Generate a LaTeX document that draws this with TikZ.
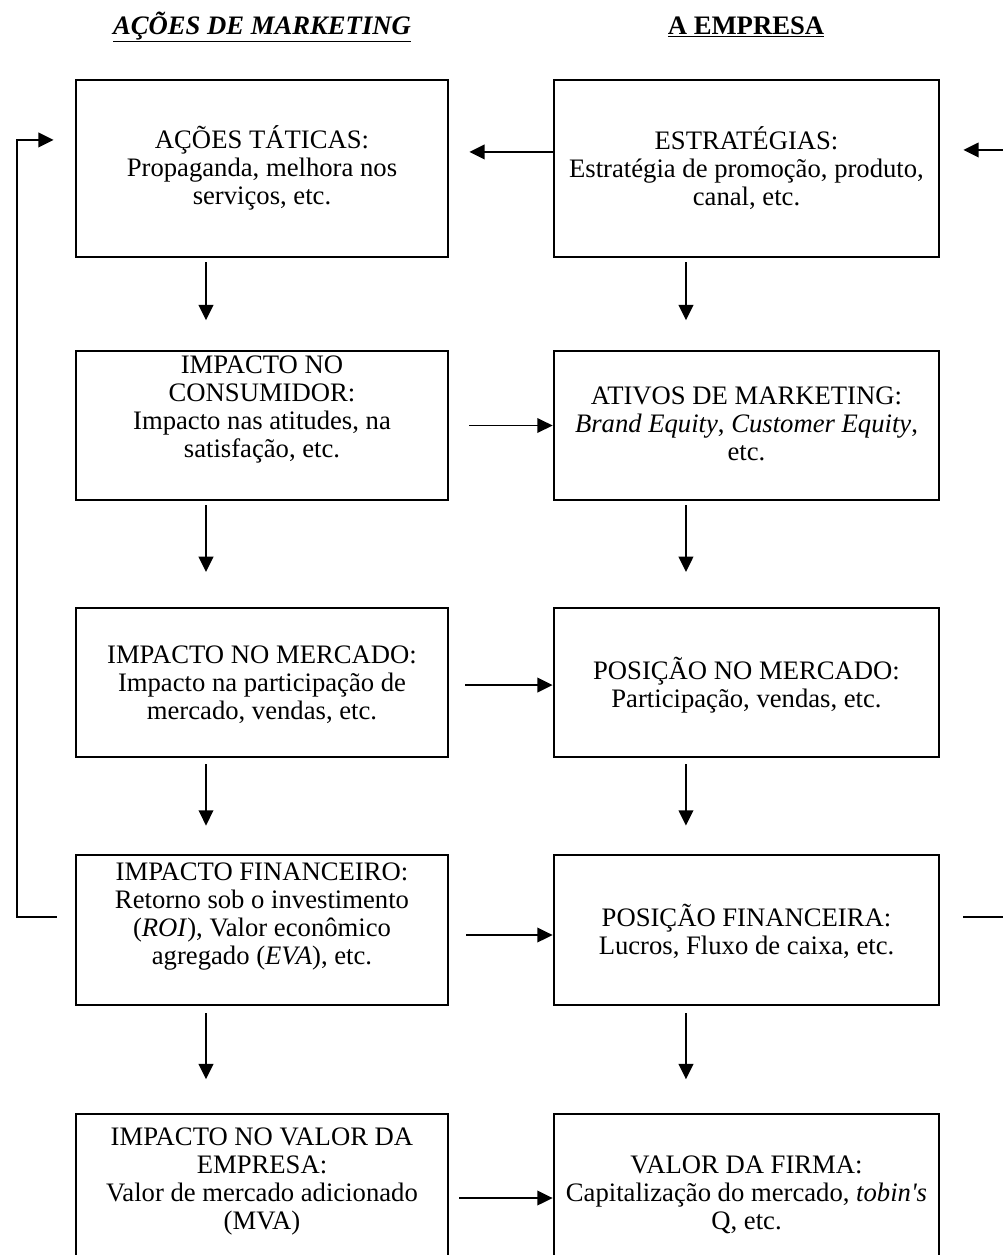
\documentclass[tikz,border=0pt]{standalone}
\usepackage{fontspec}
\setmainfont{Liberation Serif}
\usetikzlibrary{arrows.meta}
\tikzset{
  box/.style={draw, line width=2.1pt, inner sep=0pt},
  lbox/.style={box, minimum width=279pt},
  rbox/.style={box, minimum width=288.75pt},
  txt/.style={align=center, inner sep=0pt, font=\fontsize{20}{21}\selectfont},
  ttl/.style={inner sep=0pt, font=\fontsize{20}{21}\selectfont\bfseries},
  arr/.style={line width=1.4pt, -{Triangle[length=11.5pt,width=11pt]}},
  ln/.style={line width=1.4pt}
}
\begin{document}
\begin{tikzpicture}[x=0.75pt,y=-0.75pt]
\useasboundingbox[fill=white] (0,0) rectangle (1002,1255);
% titles
\node[ttl] (T1) at (262,27) {\underline{\itshape AÇÕES DE MARKETING}};
\node[ttl] (T2) at (746,27) {\underline{A EMPRESA}};
% boxes
\node[lbox, minimum height=132.75pt] (L1) at (262,168.5) {};
\node[rbox, minimum height=132.75pt] (R1) at (746.5,168.5) {};
\node[lbox, minimum height=111.75pt] (L2) at (262,425.5) {};
\node[rbox, minimum height=111.75pt] (R2) at (746.5,425.5) {};
\node[lbox, minimum height=111.75pt] (L3) at (262,682.5) {};
\node[rbox, minimum height=111.75pt] (R3) at (746.5,682.5) {};
\node[lbox, minimum height=112.5pt] (L4) at (262,930) {};
\node[rbox, minimum height=112.5pt] (R4) at (746.5,930) {};
\node[lbox, minimum height=111pt] (L5) at (262,1188) {};
\node[rbox, minimum height=111pt] (R5) at (746.5,1188) {};
% texts
\node[txt] (tL1) at (262,168) {AÇÕES TÁTICAS:\\Propaganda, melhora nos\\serviços, etc.};
\node[txt] (tR1) at (746.5,168) {ESTRATÉGIAS:\\Estratégia de promoção, produto,\\canal, etc.};
\node[txt] (tL2) at (262,410) {IMPACTO NO\\CONSUMIDOR:\\Impacto nas atitudes, na\\satisfação, etc.};
\node[txt] (tR2) at (746.5,424) {ATIVOS DE MARKETING:\\\textit{Brand Equity}, \textit{Customer Equity},\\etc.};
\node[txt] (tL3) at (262,685) {IMPACTO NO MERCADO:\\Impacto na participação de\\mercado, vendas, etc.};
\node[txt] (tR3) at (746.5,685) {POSIÇÃO NO MERCADO:\\Participação, vendas, etc.};
\node[txt] (tL4) at (262,917) {IMPACTO FINANCEIRO:\\Retorno sob o investimento\\(\textit{ROI}), Valor econômico\\agregado (\textit{EVA}), etc.};
\node[txt] (tR4) at (746.5,931) {POSIÇÃO FINANCEIRA:\\Lucros, Fluxo de caixa, etc.};
\node[txt] (tL5) at (262,1181) {IMPACTO NO VALOR DA\\EMPRESA:\\Valor de mercado adicionado\\(MVA)};
\node[txt] (tR5) at (746.5,1195) {VALOR DA FIRMA:\\Capitalização do mercado, \textit{tobin\textquotesingle s}\\Q, etc.};
% vertical arrows, left column
\draw[arr, shorten <=3pt, shorten >=22pt] ([xshift=-42pt]L1.south) -- ([xshift=-42pt]L2.north);
\draw[arr, shorten <=3pt, shorten >=26pt] ([xshift=-42pt]L2.south) -- ([xshift=-42pt]L3.north);
\draw[arr, shorten <=4.5pt, shorten >=21pt] ([xshift=-42pt]L3.south) -- ([xshift=-42pt]L4.north);
\draw[arr, shorten <=5pt, shorten >=25pt] ([xshift=-42pt]L4.south) -- ([xshift=-42pt]L5.north);
% vertical arrows, right column
\draw[arr, shorten <=3pt, shorten >=22pt] ([xshift=-45.4pt]R1.south) -- ([xshift=-45.4pt]R2.north);
\draw[arr, shorten <=3pt, shorten >=26pt] ([xshift=-45.4pt]R2.south) -- ([xshift=-45.4pt]R3.north);
\draw[arr, shorten <=4.5pt, shorten >=21pt] ([xshift=-45.4pt]R3.south) -- ([xshift=-45.4pt]R4.north);
\draw[arr, shorten <=5pt, shorten >=25pt] ([xshift=-45.4pt]R4.south) -- ([xshift=-45.4pt]R5.north);
% horizontal arrows
\draw[arr, shorten >=15pt] ([yshift=12.4pt]R1.west) -- ([yshift=12.4pt]L1.east);
\draw[arr, shorten <=15pt] (L2.east) -- (R2.west);
\draw[arr, shorten <=12pt] ([yshift=-1.9pt]L3.east) -- ([yshift=-1.9pt]R3.west);
\draw[arr, shorten <=12.75pt] ([yshift=-3.75pt]L4.east) -- ([yshift=-3.75pt]R4.west);
\draw[arr, shorten <=7.5pt] ([yshift=-7.5pt]L5.east) -- ([yshift=-7.5pt]R5.west);
% feedback loops
\coordinate (fbL) at (17,500);
\coordinate (fbR) at (1014,500);
\draw[arr, shorten <=13.5pt, shorten >=15.75pt] ([yshift=9.75pt]L4.west) -| (fbL) |- ([yshift=21.4pt]L1.west);
\draw[arr, shorten <=17.25pt, shorten >=17.25pt] ([yshift=9.75pt]R4.east) -| (fbR) |- ([yshift=13.9pt]R1.east);
\end{tikzpicture}
\end{document}
